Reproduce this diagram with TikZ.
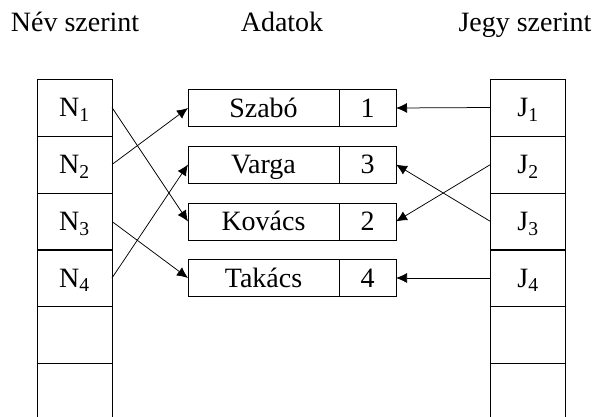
\documentclass[tikz,border=0pt]{standalone}
\usepackage{fontspec}
\setmainfont{Liberation Serif}
\usetikzlibrary{arrows.meta}
\begin{document}
\begin{tikzpicture}[x=1pt,y=-1pt,
  every node/.style={font=\fontsize{28}{31}\selectfont, inner sep=0pt, outer sep=0pt},
  boxed/.style={draw, line width=0.8pt, text height=18.5pt, text depth=0pt},
  cell/.style={boxed, minimum width=75pt, minimum height=57pt},
  namecell/.style={boxed, minimum width=151pt, minimum height=37pt},
  numcell/.style={boxed, minimum width=57pt, minimum height=37pt},
  title/.style={anchor=base},
  link/.style={line width=0.75pt, -{Latex[length=11pt,width=10pt]}}]
\useasboundingbox (0,0) rectangle (594,417);
\clip (0,0) rectangle (594,417);
% titles
\node[title] (t1) at (75,32) {Név szerint};
\node[title] (t2) at (282,32) {Adatok};
\node[title] (t3) at (525,32) {Jegy szerint};
% left column
\node[cell] (n1) at (74.5,107.5) {N\textsubscript{1}};
\node[cell] (n2) at (74.5,164.5) {N\textsubscript{2}};
\node[cell] (n3) at (74.5,221.5) {N\textsubscript{3}};
\node[cell] (n4) at (74.5,278) {N\textsubscript{4}};
\node[cell] (n5) at (74.5,334.5) {};
\node[cell, minimum height=70pt] (n6) at (74.5,398) {};
% right column
\node[cell] (j1) at (528,107.5) {J\textsubscript{1}};
\node[cell] (j2) at (528,164.5) {J\textsubscript{2}};
\node[cell] (j3) at (528,221.5) {J\textsubscript{3}};
\node[cell] (j4) at (528,278) {J\textsubscript{4}};
\node[cell] (j5) at (528,334.5) {};
\node[cell, minimum height=70pt] (j6) at (528,398) {};
% data
\node[namecell] (d1) at (263.5,108) {Szabó};
\node[numcell] (k1) at (367.5,108) {1};
\node[namecell] (d2) at (263.5,164.5) {Varga};
\node[numcell] (k2) at (367.5,164.5) {3};
\node[namecell] (d3) at (263.5,221.5) {Kovács};
\node[numcell] (k3) at (367.5,221.5) {2};
\node[namecell] (d4) at (263.5,278) {Takács};
\node[numcell] (k4) at (367.5,278) {4};
% links by name
\draw[link] (n1.east) -- (d3.west);
\draw[link] (n2.east) -- (d1.west);
\draw[link] (n3.east) -- (d4.west);
\draw[link] (n4.east) -- (d2.west);
% links by grade
\draw[link] (j1.west) -- (k1.east);
\draw[link] (j2.west) -- (k3.east);
\draw[link] (j3.west) -- (k2.east);
\draw[link] (j4.west) -- (k4.east);
\end{tikzpicture}
\end{document}
